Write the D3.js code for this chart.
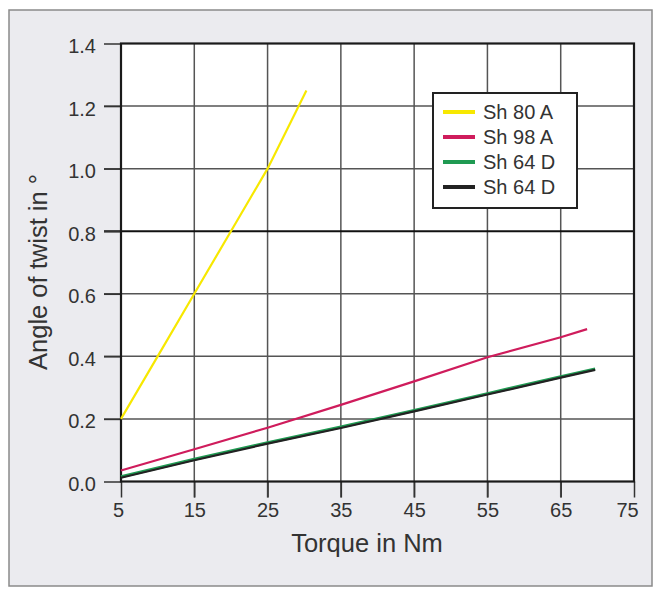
<!DOCTYPE html>
<html><head><meta charset="utf-8">
<script src="https://cdn.jsdelivr.net/npm/d3@7"></script>
<style>body{margin:0;background:#fff}svg{display:block}text{font-family:"Liberation Sans",Arial,sans-serif}</style>
</head><body><svg id="c" width="661" height="597"></svg>
<script>
const xTicks = [5,15,25,35,45,55,65,75];
const yTicks = [0,0.2,0.4,0.6,0.8,1.0,1.2,1.4];
const seriesNames = ["Sh 80 A","Sh 98 A","Sh 64 D","Sh 64 D"];
const seriesColors = ["#f7e800","#cf1c5c","#1f9a52","#222222"];
const sh80A_x = [5,10,15,20,25,30.3];
const sh80A_y = [0.2,0.4,0.6,0.8,1.0,1.25];
const sh98A_x = [5,15,25,35,45,55,65,68.6];
const sh98A_y = [0.035,0.103,0.172,0.245,0.320,0.397,0.461,0.487];
const sh64Dg_x = [5,15,25,35,45,55,65,69.7];
const sh64Dg_y = [0.015,0.071,0.124,0.174,0.227,0.281,0.335,0.360];
const sh64Dk_x = [5,15,25,35,45,55,65,69.7];
const sh64Dk_y = [0.012,0.068,0.121,0.171,0.224,0.278,0.332,0.357];

const svg = d3.select("#c");
svg.append("rect").attr("x",9).attr("y",10).attr("width",643).attr("height",576)
  .attr("fill","#ebebef").attr("stroke","#8a8a8a").attr("stroke-width",1.5);

const L=121,R=634,T=43.5,B=481.5;
const x = d3.scaleLinear().domain([5,75]).range([L,R]);
const y = d3.scaleLinear().domain([0,1.4]).range([B,T]);

svg.append("rect").attr("x",L).attr("y",T).attr("width",R-L).attr("height",B-T).attr("fill","#fff");

// grid
const g = svg.append("g");
g.selectAll("line.v").data(xTicks.slice(1,-1)).join("line")
  .attr("x1",d=>x(d)).attr("x2",d=>x(d)).attr("y1",T).attr("y2",B+16)
  .attr("stroke","#555").attr("stroke-width",1.5);
g.selectAll("line.h").data(yTicks.slice(1,-1)).join("line")
  .attr("y1",d=>y(d)).attr("y2",d=>y(d)).attr("x1",L-17).attr("x2",R)
  .attr("stroke",d=>Math.abs(d-0.8)<1e-9?"#111":"#555").attr("stroke-width",d=>Math.abs(d-0.8)<1e-9?2:1.5);

// axes via d3
const xAxis = svg.append("g").attr("transform",`translate(0,${B})`)
  .call(d3.axisBottom(x).tickValues(xTicks).tickSize(16).tickPadding(5).tickFormat(d3.format("d")));
const yAxis = svg.append("g").attr("transform",`translate(${L},0)`)
  .call(d3.axisLeft(y).tickValues(yTicks).tickSize(17).tickPadding(8).tickFormat(d3.format(".1f")));
[xAxis,yAxis].forEach(a=>{
  a.select(".domain").remove();
  a.selectAll(".tick line").attr("stroke","#333").attr("stroke-width",1.5);
  a.selectAll(".tick text").attr("fill","#333").attr("font-size",20).attr("font-family","'Liberation Sans',Arial,sans-serif");
});
yAxis.selectAll(".tick text").attr("dy","0.45em");
xAxis.selectAll(".tick text").filter(d=>d===75).attr("dx",-7);
xAxis.selectAll(".tick text").filter(d=>d===5).attr("dx",-3);

// frame
svg.append("rect").attr("x",L).attr("y",T).attr("width",R-L).attr("height",B-T)
  .attr("fill","none").attr("stroke","#1a1a1a").attr("stroke-width",2.2);

// lines
const line = d3.line().x(d=>x(d[0])).y(d=>y(d[1]));
const series = [
  {xs:sh80A_x,ys:sh80A_y,w:2.2},
  {xs:sh98A_x,ys:sh98A_y,w:2.2},
  {xs:sh64Dg_x,ys:sh64Dg_y,w:3},
  {xs:sh64Dk_x,ys:sh64Dk_y,w:2.2}
];
series.forEach((s,i)=>{
  svg.append("path").datum(s.xs.map((v,j)=>[v,s.ys[j]])).attr("d",line)
    .attr("fill","none").attr("stroke",seriesColors[i]).attr("stroke-width",s.w);
});

// legend
const lg = svg.append("g");
lg.append("rect").attr("x",433).attr("y",93).attr("width",144).attr("height",115)
  .attr("fill","#fff").attr("stroke","#222").attr("stroke-width",2);
seriesNames.forEach((n,i)=>{
  const yy = 112+i*25;
  lg.append("line").attr("x1",443).attr("x2",475).attr("y1",yy).attr("y2",yy)
    .attr("stroke",seriesColors[i]).attr("stroke-width",4);
  lg.append("text").attr("x",483).attr("y",yy+7).attr("font-size",20).attr("fill","#333").text(n);
});

// axis titles
svg.append("text").attr("x",367).attr("y",552).attr("text-anchor","middle")
  .attr("font-size",25.5).attr("fill","#333").text("Torque in Nm");
svg.append("text").attr("transform",`translate(47,272) rotate(-90)`).attr("text-anchor","middle")
  .attr("font-size",25.5).attr("fill","#333").text("Angle of twist in °");
</script></body></html>
